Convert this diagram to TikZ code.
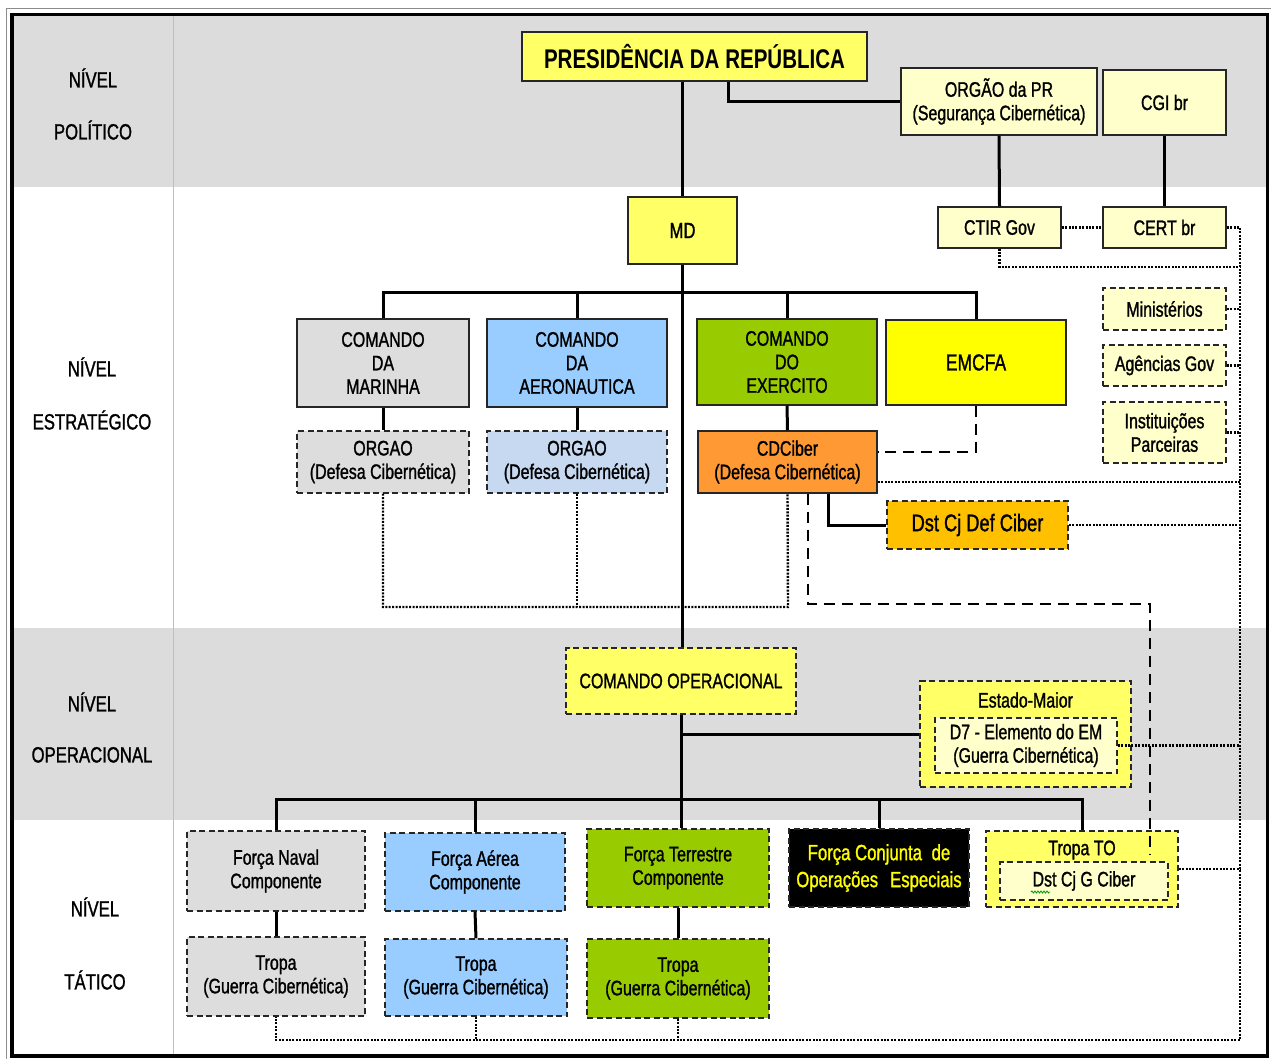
\documentclass[tikz,border=0pt]{standalone}
\usepackage{fontspec}
\setmainfont{Liberation Sans}[FakeStretch=0.76]
\newfontfamily\nf{Liberation Sans}[FakeStretch=0.76, FakeBold=1.2]
\usetikzlibrary{decorations.pathmorphing}
\definecolor{cY}{HTML}{FFFF66}
\definecolor{cLY}{HTML}{FFFFCC}
\definecolor{cG}{HTML}{DDDDDD}
\definecolor{cB}{HTML}{99CCFF}
\definecolor{cLB}{HTML}{C6D9F1}
\definecolor{cGr}{HTML}{99CC00}
\definecolor{cYY}{HTML}{FFFF00}
\definecolor{cO}{HTML}{FF9933}
\definecolor{cGold}{HTML}{FFC000}
\definecolor{band}{HTML}{DCDCDC}
\tikzset{
  txt/.style={font=\nf\fontsize{21}{23.5}\selectfont, inner sep=0pt, align=center},
  lbl/.style={inner sep=0pt, align=center},
  bx/.style={txt, draw=black!85, line width=1.4pt},
  dbx/.style={bx, dash pattern=on 6pt off 3.5pt},
  conn/.style={line width=3pt, black},
  ldash/.style={line width=2.8pt, black, dash pattern=on 11pt off 7pt},
  dotln/.style={line width=2.4pt, black, dash pattern=on 2pt off 1.4pt},
}
\begin{document}
\begin{tikzpicture}[x=1pt,y=-1pt]
\useasboundingbox (0,0) rectangle (1271,1059);
% bands
\fill[white] (0,0) rectangle (1271,1059);
\fill[band] (12,15) rectangle (1268,187);
\fill[band] (12,628) rectangle (1268,820);
\draw[black!25, line width=1pt] (173,15) -- (173,1056);
\draw[black!45, line width=0.8pt] (6,8) -- (1271,8);
\draw[black!45, line width=0.8pt] (6,8) -- (6,1059);
\draw[black, line width=3.5pt] (12,14.5) rectangle (1267.5,1056);
% level labels
\node[lbl, font=\nf\fontsize{22}{52}\selectfont] (lpol) at (93,104) {NÍVEL\\POLÍTICO};
\node[lbl, font=\nf\fontsize{22}{53}\selectfont] (lest) at (92,393.5) {NÍVEL\\ESTRATÉGICO};
\node[lbl, font=\nf\fontsize{22}{51}\selectfont] (lope) at (92,727.5) {NÍVEL\\OPERACIONAL};
\node[lbl, font=\nf\fontsize{22}{73}\selectfont] (ltat) at (95,943.5) {NÍVEL\\TÁTICO};
% political
\node[bx, fill=cY, minimum width=345pt, minimum height=49pt, font=\rmfamily\bfseries\fontsize{27}{30}\selectfont] (pres) at (694.5,56.5) {PRESIDÊNCIA DA REPÚBLICA};
\node[bx, fill=cLY, minimum width=196pt, minimum height=67pt] (orgpr) at (999,101.5) {ORGÃO da PR\\(Segurança Cibernética)};
\node[bx, fill=cLY, minimum width=123pt, minimum height=65pt] (cgi) at (1164.5,102.5) {CGI br};
% strategic
\node[bx, fill=cY, minimum width=109pt, minimum height=67pt, font=\nf\fontsize{22}{24}\selectfont] (md) at (682.5,230.5) {MD};
\node[bx, fill=cLY, minimum width=123pt, minimum height=41pt] (ctir) at (999.5,227.5) {CTIR Gov};
\node[bx, fill=cLY, minimum width=123pt, minimum height=41pt] (cert) at (1164.5,227.5) {CERT br};
\node[dbx, fill=cLY, minimum width=123pt, minimum height=42pt] (mini) at (1164.5,309) {Ministérios};
\node[dbx, fill=cLY, minimum width=123pt, minimum height=41pt] (agen) at (1164.5,365.5) {Agências Gov};
\node[dbx, fill=cLY, minimum width=123pt, minimum height=61pt] (inst) at (1164.5,432.5) {Instituições\\Parceiras};
\node[bx, fill=cG, minimum width=172pt, minimum height=88pt] (mar) at (383,363) {COMANDO\\DA\\MARINHA};
\node[bx, fill=cB, minimum width=180pt, minimum height=88pt] (aer) at (577,363) {COMANDO\\DA\\AERONAUTICA};
\node[bx, fill=cGr, minimum width=180pt, minimum height=86pt] (exe) at (787,362) {COMANDO\\DO\\EXERCITO};
\node[bx, fill=cYY, minimum width=180pt, minimum height=85pt, font=\nf\fontsize{23}{26}\selectfont] (emc) at (976,362.5) {EMCFA};
\node[dbx, fill=cG, minimum width=172pt, minimum height=62pt] (omar) at (383,462) {ORGAO\\(Defesa Cibernética)};
\node[dbx, fill=cLB, minimum width=180pt, minimum height=62pt] (oaer) at (577,462) {ORGAO\\(Defesa Cibernética)};
\node[bx, fill=cO, minimum width=179pt, minimum height=62pt] (cdc) at (787.5,462) {CDCiber\\(Defesa Cibernética)};
\node[dbx, fill=cGold, minimum width=181pt, minimum height=48pt, font=\nf\fontsize{24}{26}\selectfont] (dstdef) at (977.5,525) {Dst Cj Def Ciber};
% operational
\node[dbx, fill=cY, minimum width=230pt, minimum height=66pt] (opc) at (681,681) {COMANDO OPERACIONAL};
\node[dbx, fill=cY, minimum width=211pt, minimum height=106pt] (em) at (1025.5,734) {};
\node[txt] (emt) at (1025.5,700) {Estado-Maior};
\node[dbx, fill=cLY, minimum width=182pt, minimum height=55pt] (d7) at (1026,745.5) {D7 - Elemento do EM\\(Guerra Cibernética)};
% tactical
\node[dbx, fill=cG, minimum width=178pt, minimum height=80pt] (fnav) at (276,871) {Força Naval\\Componente};
\node[dbx, fill=cB, minimum width=180pt, minimum height=78pt] (faer) at (475,872) {Força Aérea\\Componente};
\node[dbx, fill=cGr, minimum width=182pt, minimum height=78pt] (fter) at (678,868) {Força Terrestre\\Componente};
\node[dbx, fill=black, minimum width=180pt, minimum height=78pt, text=cYY, font=\nf\fontsize{22}{27}\selectfont] (fcon) at (879,868) {Força Conjunta\hspace{5pt} de\\Operações\hspace{12pt}Especiais};
\node[dbx, fill=cY, minimum width=192pt, minimum height=76pt] (tto) at (1082,869) {};
\node[txt] (ttot) at (1082,850) {Tropa TO};
\node[dbx, fill=cLY, minimum width=168pt, minimum height=38pt] (dcg) at (1084,881) {Dst Cj G Ciber};
\node[dbx, fill=cG, minimum width=178pt, minimum height=79pt] (tnav) at (276,976.5) {Tropa\\(Guerra Cibernética)};
\node[dbx, fill=cB, minimum width=182pt, minimum height=77pt] (taer) at (476,977.5) {Tropa\\(Guerra Cibernética)};
\node[dbx, fill=cGr, minimum width=182pt, minimum height=79pt] (tter) at (678,978.5) {Tropa\\(Guerra Cibernética)};
\draw[green!60!black, line width=0.8pt, decorate, decoration={snake, amplitude=1pt, segment length=3pt}] (1031,892) -- (1050,892);
% solid connectors
\draw[conn] ([xshift=33.5pt]pres.south) |- (orgpr.west);
\draw[conn] (md.north |- pres.south) -- (md.north);
\draw[conn] (orgpr.south) -- (ctir.north);
\draw[conn] (cgi.south) -- (cert.north);
\draw[conn] (md.south) -- (md.south |- opc.north);
\draw[conn] (mar.north) -- ++(0,-26) -| (emc.north);
\draw[conn] (aer.north) -- ++(0,-26);
\draw[conn] (exe.north) -- ++(0,-26);
\draw[conn] (mar.south) -- (omar.north);
\draw[conn] (aer.south) -- (oaer.north);
\draw[conn] (exe.south) -- (cdc.north);
\draw[conn] ([xshift=40.5pt]cdc.south) |- (dstdef.west);
\draw[conn] (opc.south) -- (opc.south |- fter.north);
\draw[conn] (opc.south |- em.west) -- (em.west);
\draw[conn] (fnav.north) -- ++(0,-31) -| (tto.north);
\draw[conn] (faer.north) -- ++(0,-33);
\draw[conn] (fcon.north) -- ++(0,-29);
\draw[conn] (fnav.south) -- (tnav.north);
\draw[conn] (faer.south) -- (taer.north);
\draw[conn] (fter.south) -- (tter.north);
% dashed connectors
\draw[ldash] (emc.south) |- ([yshift=10pt]cdc.east);
\coordinate (dd1) at (1150,604);
\coordinate (dd2) at (1150,855);
\draw[ldash] ([xshift=20.5pt]cdc.south) |- (dd1) -- (dd2);
% dotted connectors
\coordinate (sR) at (1240,1040);
\coordinate (sC) at (1240,267);
\coordinate (dL) at (788,607);
\coordinate (cdcR) at ([yshift=-20pt]cdc.east);
\draw[dotln] (ctir.east) -- (cert.west);
\draw[dotln] (cert.east) -| (sR) -| (tnav.south);
\draw[dotln] (ctir.south) |- (sC);
\draw[dotln] (mini.east) -- (mini.east -| sR);
\draw[dotln] (agen.east) -- (agen.east -| sR);
\draw[dotln] (inst.east) -- (inst.east -| sR);
\draw[dotln] (cdcR) -- (cdcR -| sR);
\draw[dotln] (dstdef.east) -- (dstdef.east -| sR);
\draw[dotln] (d7.east) -- (d7.east -| sR);
\draw[dotln] (tto.east) -- (tto.east -| sR);
\draw[dotln] (taer.south) -- (taer.south |- sR);
\draw[dotln] (tter.south) -- (tter.south |- sR);
\draw[dotln] (omar.south) |- (dL) -- (cdc.south);
\draw[dotln] (oaer.south) -- (oaer.south |- dL);
\end{tikzpicture}
\end{document}
